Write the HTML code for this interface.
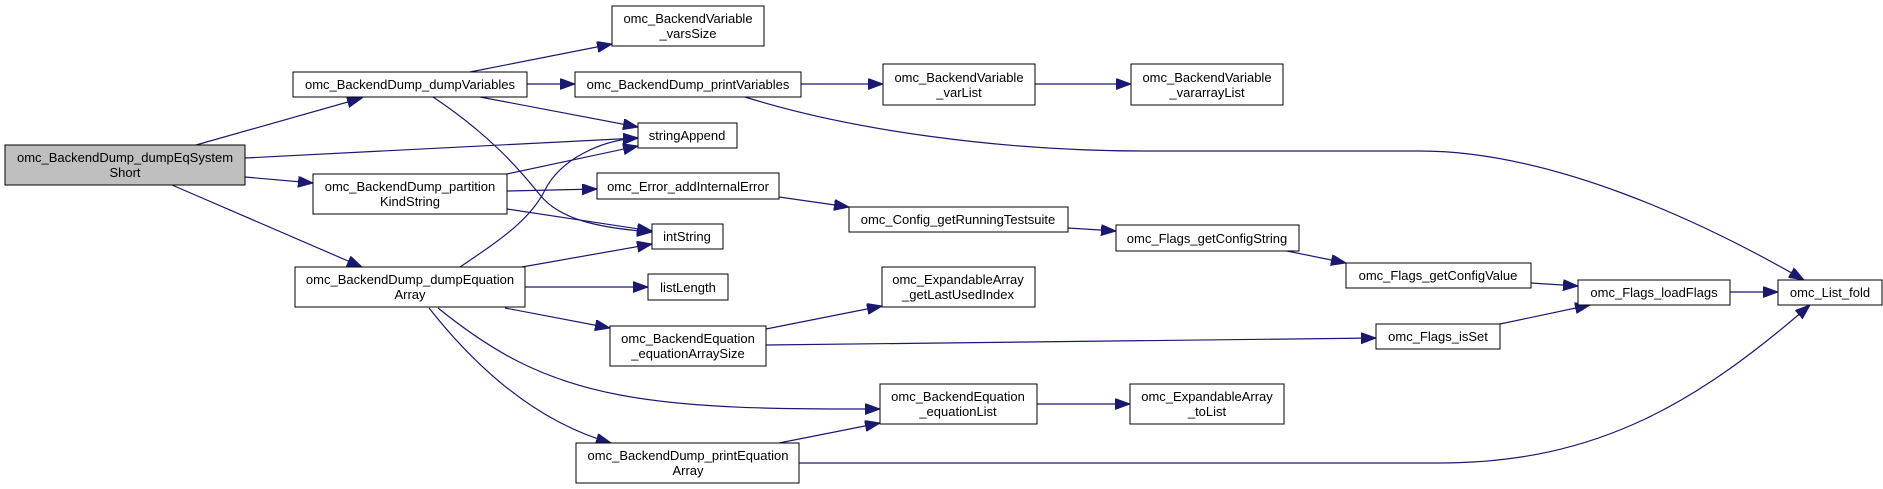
<!DOCTYPE html>
<html><head><meta charset="utf-8"><style>
html,body{margin:0;padding:0;background:#fff;}
svg{display:block;}
text{font-family:"Liberation Sans",Arial,sans-serif;font-size:13px;fill:#000;}
</style></head><body>
<svg width="1883" height="489" viewBox="0 0 1883 489" xmlns="http://www.w3.org/2000/svg">
<defs>
<marker id="a" markerUnits="userSpaceOnUse" markerWidth="16" markerHeight="12" refX="15" refY="5.5" orient="auto">
<path d="M0,0 L15,5.5 L0,11 z" fill="#191970" stroke="#191970"/>
</marker>
</defs>
<g fill="none" stroke="#191970" stroke-width="1.2" marker-end="url(#a)">
<path d="M196,145 L362,98"/>
<path d="M245,158 L638,138"/>
<path d="M245,177 L313,183"/>
<path d="M172,185 L362,267"/>
<path d="M470,72 L612,44"/>
<path d="M527,84 L575,84"/>
<path d="M480,97 L638,127"/>
<path d="M433,97 C490,135 520,170 540,195 S600,228 652,232"/>
<path d="M507,174 L638,146"/>
<path d="M507,191 L597,189"/>
<path d="M507,209 L652,231"/>
<path d="M460,267 C500,240 530,220 545,190 S600,140 638,138"/>
<path d="M522,267 L652,244"/>
<path d="M525,287 L648,287"/>
<path d="M505,308 L610,328"/>
<path d="M438,308 C490,350 540,380 620,395 S800,409 880,409"/>
<path d="M429,308 C470,360 530,420 611,443"/>
<path d="M801,84 L883,84"/>
<path d="M745,97 C850,130 1000,151 1146,151 L1420,151 C1550,151 1700,220 1804,280"/>
<path d="M1035,84 L1131,84"/>
<path d="M779,197 L849,207"/>
<path d="M1068,228 L1116,231"/>
<path d="M1287,251 L1346,263"/>
<path d="M1531,283 L1578,286"/>
<path d="M1500,324 L1590,305"/>
<path d="M1730,292 L1778,292"/>
<path d="M766,329 L882,306"/>
<path d="M766,345 L1376,338"/>
<path d="M1037,404 L1130,404"/>
<path d="M779,443 L880,423"/>
<path d="M799,463 L1440,463 C1600,463 1700,400 1810,305"/>
</g>
<g stroke="#000" stroke-width="1" fill="#fff">
<rect x="5" y="145" width="240" height="40" fill="#bfbfbf"/>
<rect x="293" y="72" width="234" height="25"/>
<rect x="313" y="174" width="194" height="40"/>
<rect x="295" y="267" width="230" height="40"/>
<rect x="612" y="6" width="152" height="40"/>
<rect x="575" y="72" width="226" height="25"/>
<rect x="638" y="123" width="99" height="25"/>
<rect x="597" y="173" width="182" height="26"/>
<rect x="652" y="224" width="71" height="25"/>
<rect x="648" y="274" width="80" height="26"/>
<rect x="610" y="326" width="156" height="40"/>
<rect x="576" y="443" width="223" height="40"/>
<rect x="883" y="64" width="152" height="41"/>
<rect x="1131" y="64" width="152" height="41"/>
<rect x="849" y="207" width="219" height="25"/>
<rect x="1116" y="225" width="183" height="26"/>
<rect x="1346" y="263" width="185" height="25"/>
<rect x="882" y="267" width="153" height="40"/>
<rect x="1376" y="324" width="124" height="25"/>
<rect x="880" y="384" width="157" height="40"/>
<rect x="1130" y="384" width="154" height="40"/>
<rect x="1578" y="280" width="152" height="25"/>
<rect x="1778" y="280" width="104" height="25"/>
</g>
<g text-anchor="middle">
<text x="125" y="162">omc_BackendDump_dumpEqSystem</text><text x="125" y="177">Short</text>
<text x="410" y="89">omc_BackendDump_dumpVariables</text>
<text x="410" y="191">omc_BackendDump_partition</text><text x="410" y="206">KindString</text>
<text x="410" y="284">omc_BackendDump_dumpEquation</text><text x="410" y="299">Array</text>
<text x="688" y="23">omc_BackendVariable</text><text x="688" y="38">_varsSize</text>
<text x="688" y="89">omc_BackendDump_printVariables</text>
<text x="687" y="140">stringAppend</text>
<text x="688" y="191">omc_Error_addInternalError</text>
<text x="687" y="241">intString</text>
<text x="688" y="292">listLength</text>
<text x="688" y="343">omc_BackendEquation</text><text x="688" y="358">_equationArraySize</text>
<text x="688" y="460">omc_BackendDump_printEquation</text><text x="688" y="475">Array</text>
<text x="959" y="82">omc_BackendVariable</text><text x="959" y="97">_varList</text>
<text x="1207" y="82">omc_BackendVariable</text><text x="1207" y="97">_vararrayList</text>
<text x="958" y="224">omc_Config_getRunningTestsuite</text>
<text x="1207" y="243">omc_Flags_getConfigString</text>
<text x="1438" y="280">omc_Flags_getConfigValue</text>
<text x="958" y="284">omc_ExpandableArray</text><text x="958" y="299">_getLastUsedIndex</text>
<text x="1438" y="341">omc_Flags_isSet</text>
<text x="958" y="401">omc_BackendEquation</text><text x="958" y="416">_equationList</text>
<text x="1207" y="401">omc_ExpandableArray</text><text x="1207" y="416">_toList</text>
<text x="1654" y="297">omc_Flags_loadFlags</text>
<text x="1830" y="297">omc_List_fold</text>
</g>
</svg>
</body></html>
